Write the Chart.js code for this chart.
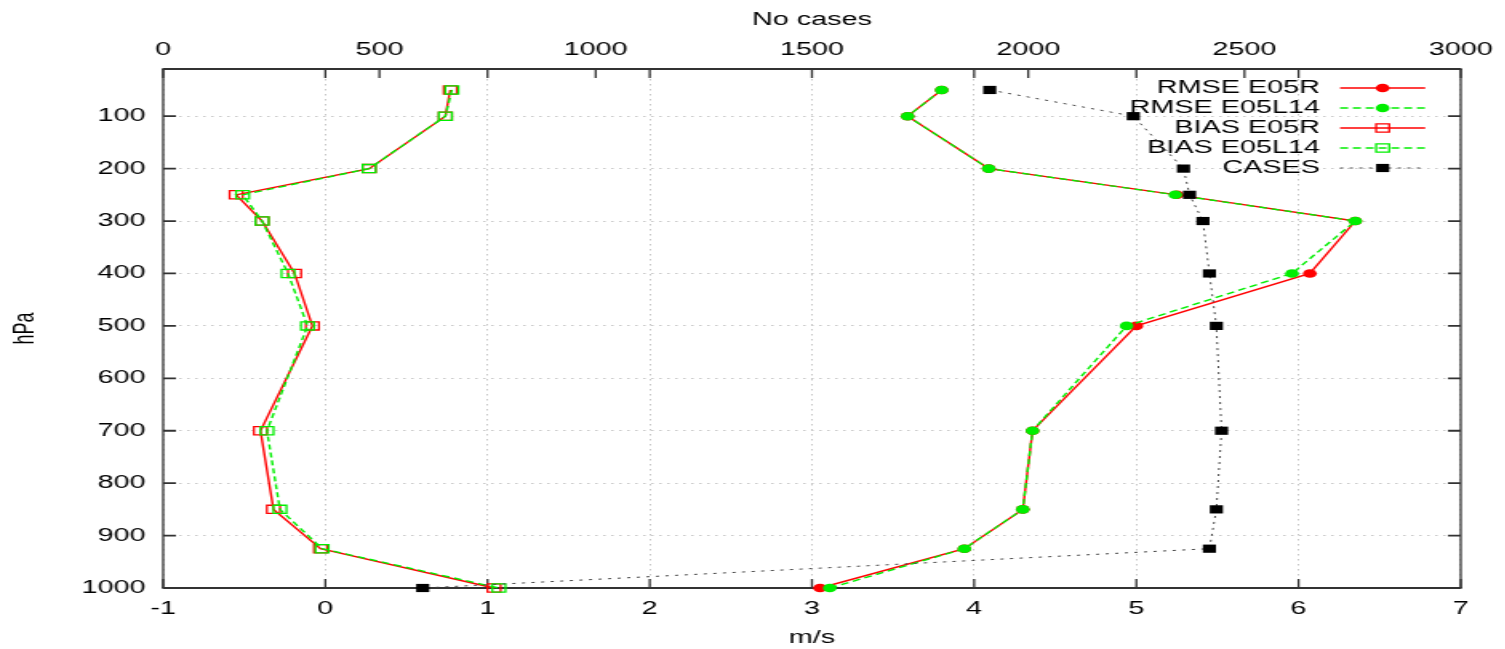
<!DOCTYPE html>
<html>
<head>
<meta charset="utf-8">
<script src="https://cdn.jsdelivr.net/npm/chart.js@4.4.1/dist/chart.umd.min.js"></script>
<style>
  html, body { margin: 0; padding: 0; background: #fff; }
  #wrap { width: 1505px; height: 649px; overflow: hidden; position: relative; background: #fff; }
  #c { position: absolute; left: 0; top: 0; transform: scaleX(1.6); transform-origin: 0 0; }
</style>
</head>
<body>
<div id="wrap"><canvas id="c" width="941" height="649" style="width:941px;height:649px"></canvas></div>
<script>
// ---- data ----
const levels     = [50, 100, 200, 250, 300, 400, 500, 700, 850, 925, 1000];
const rmseE05R   = [3.80, 3.59, 4.09, 5.25, 6.35, 6.07, 5.00, 4.36, 4.30, 3.94, 3.05];
const rmseE05L14 = [3.80, 3.59, 4.09, 5.24, 6.35, 5.96, 4.94, 4.36, 4.30, 3.94, 3.11];
const biasE05R   = [0.77, 0.74, 0.27, -0.55, -0.39, -0.19, -0.08, -0.40, -0.32, -0.03, 1.04];
const biasE05L14 = [0.78, 0.74, 0.27, -0.51, -0.39, -0.23, -0.11, -0.36, -0.28, -0.02, 1.07];
const cases      = [1911, 2243, 2359, 2373, 2404, 2419, 2435, 2447, 2435, 2419, 600];
const xTicks  = [-1, 0, 1, 2, 3, 4, 5, 6, 7];
const x2Ticks = [0, 500, 1000, 1500, 2000, 2500, 3000];
const yTicks  = [100, 200, 300, 400, 500, 600, 700, 800, 900, 1000];
const seriesNames = ['RMSE E05R', 'RMSE E05L14', 'BIAS E05R', 'BIAS E05L14', 'CASES'];

const FONT = '"Liberation Sans", Arial, Helvetica, sans-serif';
Chart.defaults.font.family = FONT;
Chart.defaults.font.size = 18;
Chart.defaults.color = '#000';

const pts = (vals) => vals.map((v, i) => ({ x: v, y: levels[i] }));
const RED = '#ff0000', GREEN = '#00ee00';

const datasets = [
  { label: seriesNames[0], data: pts(rmseE05R), borderColor: RED, backgroundColor: RED,
    borderWidth: 1.4, pointStyle: 'circle', pointRadius: 4.3, pointBorderWidth: 0,
    pointBackgroundColor: RED, order: 5 },
  { label: seriesNames[1], data: pts(rmseE05L14), borderColor: GREEN, backgroundColor: GREEN,
    borderWidth: 1.4, borderDash: [5, 3], pointStyle: 'circle', pointRadius: 4.3, pointBorderWidth: 0,
    pointBackgroundColor: GREEN, order: 4 },
  { label: seriesNames[2], data: pts(biasE05R), borderColor: RED, backgroundColor: 'rgba(0,0,0,0)',
    borderWidth: 1.4, pointStyle: 'rect', pointRadius: 5.8, pointBorderWidth: 1.3,
    pointBorderColor: RED, pointBackgroundColor: 'rgba(0,0,0,0)', order: 3 },
  { label: seriesNames[3], data: pts(biasE05L14), borderColor: GREEN, backgroundColor: 'rgba(0,0,0,0)',
    borderWidth: 1.4, borderDash: [5, 3], pointStyle: 'rect', pointRadius: 5.8, pointBorderWidth: 1.3,
    pointBorderColor: GREEN, pointBackgroundColor: 'rgba(0,0,0,0)', order: 2 },
  { label: seriesNames[4], data: pts(cases), xAxisID: 'x2', borderColor: '#444', backgroundColor: '#000',
    borderWidth: 1, borderDash: [2, 4], pointStyle: 'rect', pointRadius: 5.8, pointBorderWidth: 0,
    pointBackgroundColor: '#000', order: 1 }
];
datasets.forEach(d => { d.clip = false; d.tension = 0; d.fill = false; });

const gnuFrame = {
  id: 'gnuFrame',
  beforeDatasetsDraw(chart) {
    const { ctx, chartArea: a, scales } = chart;
    ctx.save();
    ctx.strokeStyle = '#333';
    ctx.setLineDash([]);
    // inward tick marks
    ctx.lineWidth = 1.3;
    ctx.beginPath();
    scales.x.ticks.forEach(t => {
      const px = scales.x.getPixelForValue(t.value);
      ctx.moveTo(px, a.bottom); ctx.lineTo(px, a.bottom - 9);
      ctx.moveTo(px, a.top); ctx.lineTo(px, a.top + 9);
    });
    scales.x2.ticks.forEach(t => {
      const px = scales.x2.getPixelForValue(t.value);
      ctx.moveTo(px, a.top); ctx.lineTo(px, a.top + 9);
    });
    ctx.stroke();
    ctx.lineWidth = 1.8;
    ctx.beginPath();
    scales.y.ticks.forEach(t => {
      const py = scales.y.getPixelForValue(t.value);
      ctx.moveTo(a.left, py); ctx.lineTo(a.left + 8, py);
      ctx.moveTo(a.right, py); ctx.lineTo(a.right - 8, py);
    });
    ctx.stroke();
    // frame
    ctx.lineWidth = 2;
    ctx.beginPath();
    ctx.moveTo(a.left - 0.6, a.top); ctx.lineTo(a.right + 0.6, a.top);
    ctx.moveTo(a.left - 0.6, a.bottom); ctx.lineTo(a.right + 0.6, a.bottom);
    ctx.stroke();
    ctx.lineWidth = 1.3;
    ctx.beginPath();
    ctx.moveTo(a.left, a.top); ctx.lineTo(a.left, a.bottom);
    ctx.moveTo(a.right, a.top); ctx.lineTo(a.right, a.bottom);
    ctx.stroke();

    // key (gnuplot style: text right-aligned, sample to the right)
    const textX = a.right - 88, s0 = a.right - 75.4, s1 = a.right - 22.2, sc = (s0 + s1) / 2;
    chart.data.datasets.forEach((ds, i) => {
      const y = a.top + 19 + i * 20;
      ctx.setLineDash([]);
      ctx.fillStyle = '#000';
      ctx.font = '18px ' + FONT;
      ctx.textAlign = 'right';
      ctx.textBaseline = 'middle';
      ctx.fillText(ds.label, textX, y);
      ctx.save();
      ctx.strokeStyle = ds.borderColor;
      ctx.lineWidth = ds.borderWidth;
      ctx.setLineDash(ds.borderDash || []);
      ctx.beginPath(); ctx.moveTo(s0, y); ctx.lineTo(s1, y); ctx.stroke();
      ctx.setLineDash([]);
      ctx.fillStyle = ds.pointBackgroundColor;
      ctx.strokeStyle = ds.pointBorderColor || ds.borderColor;
      ctx.lineWidth = ds.pointBorderWidth;
      Chart.helpers.drawPoint(ctx, { pointStyle: ds.pointStyle, radius: ds.pointRadius,
        borderWidth: ds.pointBorderWidth, rotation: 0 }, sc, y);
      ctx.restore();
    });
    ctx.restore();
  }
};

const GRID = { color: '#c6c6c6', lineWidth: 1, drawTicks: false };
const labelFn = (v) => String(v);

new Chart(document.getElementById('c'), {
  type: 'line',
  data: { datasets },
  plugins: [gnuFrame],
  options: {
    responsive: false,
    animation: false,
    devicePixelRatio: 1,
    parsing: true,
    layout: { padding: { left: 0, right: 25, top: 0, bottom: 0 } },
    plugins: { legend: { display: false }, tooltip: { enabled: false } },
    elements: { line: { tension: 0 } },
    scales: {
      x: {
        type: 'linear', position: 'bottom', min: -1, max: 7,
        afterBuildTicks: s => { s.ticks = xTicks.map(v => ({ value: v })); },
        afterFit: s => { s.height = 61; },
        grid: GRID,
        border: { display: false, dash: [1.5, 3.5] },
        ticks: { padding: 10, color: '#000', maxRotation: 0, autoSkip: false, callback: labelFn },
        title: { display: true, text: 'm/s', color: '#000', padding: { top: 0, bottom: 0 } }
      },
      x2: {
        type: 'linear', position: 'top', min: 0, max: 3000,
        afterBuildTicks: s => { s.ticks = x2Ticks.map(v => ({ value: v })); },
        afterFit: s => { s.height = 69; },
        grid: { drawOnChartArea: false, drawTicks: false },
        border: { display: false },
        ticks: { padding: 8, color: '#000', maxRotation: 0, autoSkip: false, callback: labelFn },
        title: { display: true, text: 'No cases', color: '#000', padding: { top: 9, bottom: 0 } }
      },
      y: {
        type: 'linear', position: 'left', reverse: true, min: 10, max: 1000,
        afterBuildTicks: s => { s.ticks = yTicks.map(v => ({ value: v })); },
        afterFit: s => { s.width = 102; },
        grid: GRID,
        border: { display: false, dash: [1.5, 3.5] },
        ticks: { padding: 11, color: '#000', autoSkip: false, callback: labelFn },
        title: { display: true, text: 'hPa', color: '#000', padding: { top: 5, bottom: 0 } }
      }
    }
  }
});
</script>
</body>
</html>
